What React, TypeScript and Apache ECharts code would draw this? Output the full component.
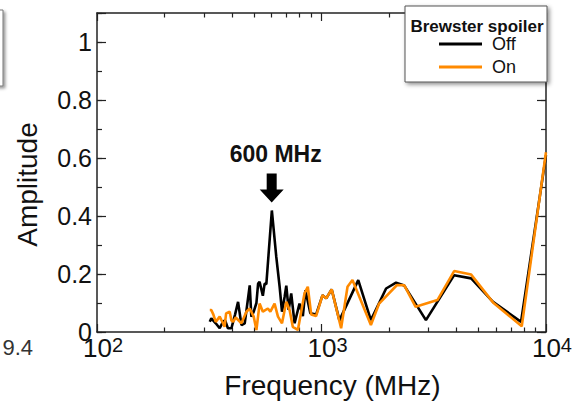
import React, { useEffect, useRef } from 'react';
import * as echarts from 'echarts';

// Frequency (MHz) / amplitude samples, Brewster spoiler OFF (black)
const offFreq = [318, 323, 338, 352, 364, 372, 383, 397, 412, 425, 440, 455, 466, 479, 487, 499, 513, 522, 530, 548, 558, 568, 601, 629, 651, 667, 685, 697, 714, 733, 759, 798, 826, 848, 892, 946, 1011, 1050, 1110, 1202, 1458, 1660, 1940, 2148, 2338, 2919, 3899, 4642, 5808, 7743, 10000];
const offAmp = [0.035, 0.047, 0.03, 0.013, 0.035, 0.04, 0.013, 0.013, 0.06, 0.104, 0.024, 0.03, 0.09, 0.161, 0.053, 0.07, 0.1, 0.167, 0.173, 0.125, 0.167, 0.165, 0.419, 0.259, 0.156, 0.07, 0.121, 0.16, 0.076, 0.133, 0.03, 0.098, 0.055, 0.144, 0.065, 0.06, 0.127, 0.116, 0.147, 0.04, 0.179, 0.041, 0.15, 0.17, 0.16, 0.041, 0.196, 0.185, 0.104, 0.035, 0.61];

// Brewster spoiler ON (orange)
const onFreq = [318, 323, 330, 338, 352, 364, 370, 376, 390, 397, 404, 415, 440, 463, 479, 499, 513, 530, 548, 577, 592, 618, 640, 667, 697, 721, 745, 785, 840, 869, 900, 946, 1011, 1050, 1110, 1223, 1306, 1374, 1660, 1806, 2170, 2338, 2627, 3284, 3899, 4642, 5808, 7800, 10000];
const onAmp = [0.076, 0.076, 0.06, 0.035, 0.053, 0.03, 0.018, 0.064, 0.07, 0.04, 0.035, 0.05, 0.03, 0.07, 0.081, 0.053, 0.007, 0.098, 0.07, 0.081, 0.07, 0.098, 0.053, 0.03, 0.104, 0.076, 0.018, 0.007, 0.133, 0.156, 0.06, 0.055, 0.127, 0.116, 0.147, 0.013, 0.156, 0.179, 0.024, 0.098, 0.162, 0.161, 0.087, 0.11, 0.21, 0.198, 0.102, 0.02, 0.62];

const seriesNames = ['Off', 'On'];
const legendTitle = 'Brewster spoiler';
const xMin = 100;
const xMax = 10000;
const yMin = 0;
const yMax = 1.1;
const yMajorStep = 0.2;
const yMinorStep = 0.1;
const annotationFreq = 600;
const annotationPeak = 0.419;
const annotationText = '600 MHz';
const sideText = '9.4';

const FONT = 'Liberation Sans, Arial, sans-serif';
const AXIS = '#222';
const ORANGE = '#ff8a00';

export default function App() {
  const ref = useRef<HTMLDivElement>(null);
  useEffect(() => {
    const chart = echarts.init(ref.current!, null, { renderer: 'svg' });
    const lineSt = { color: AXIS, width: 1.5 };
    const tickSt = { color: AXIS, width: 1.2 };
    const xFrame = (position: string, withLabel: boolean): any => ({
      type: 'log', logBase: 10, min: xMin, max: xMax, position,
      axisLine: { show: true, onZero: false, lineStyle: lineSt },
      axisTick: { show: true, inside: true, length: 8, lineStyle: tickSt },
      minorTick: { show: true, splitNumber: 9, length: 4.5, lineStyle: tickSt },
      splitLine: { show: false },
      minorSplitLine: { show: false },
      axisLabel: withLabel
        ? {
            margin: 3,
            formatter: (v: number) => `{p|}{b|10}{s|${Math.round(Math.log10(v))}}`,
            rich: {
              p: { width: 12 },
              b: { fontSize: 26, lineHeight: 26, verticalAlign: 'bottom', color: '#111', fontFamily: FONT },
              s: { fontSize: 20, lineHeight: 20, verticalAlign: 'top', padding: [0, 0, 12, 0], color: '#111', fontFamily: FONT },
            },
          }
        : { show: false },
    });
    const yFrame = (position: string, step: number, len: number, showLine: boolean): any => ({
      type: 'value', min: yMin, max: yMax, interval: step, position,
      axisLine: { show: showLine, onZero: false, lineStyle: lineSt },
      axisTick: { show: true, inside: true, length: len, lineStyle: tickSt },
      axisLabel: { show: false },
      splitLine: { show: false },
    });
    const option: any = {
      animation: false,
      backgroundColor: '#fff',
      textStyle: { fontFamily: FONT },
      grid: { left: 97, top: 13, right: 28, bottom: 74 },
      xAxis: [
        {
          ...xFrame('bottom', true),
          name: 'Frequency (MHz)', nameLocation: 'middle', nameGap: 34,
          nameTextStyle: { fontSize: 28, color: '#111', fontFamily: FONT, padding: [0, 0, 0, 22] },
        },
        xFrame('top', false),
      ],
      yAxis: [
        {
          ...yFrame('left', yMajorStep, 9, true),
          name: 'Amplitude', nameLocation: 'middle', nameGap: 56, nameRotate: 90,
          nameTextStyle: { fontSize: 28, color: '#111', fontFamily: FONT, padding: [0, 24, 0, 0] },
          axisLabel: {
            margin: 5, fontSize: 25, lineHeight: 18, color: '#111', fontFamily: FONT,
            formatter: (v: number) => {
              const r = Math.round(v * 10);
              return r % 2 === 0 ? String(r / 10) : '';
            },
          },
        },
        yFrame('right', yMajorStep, 9, true),
        yFrame('left', yMinorStep, 5, false),
        yFrame('right', yMinorStep, 5, false),
      ],
      legend: {
        data: seriesNames.map((n) => ({ name: n, icon: 'rect' })),
        orient: 'vertical',
        left: 405, top: 6,
        padding: [29, 31, 6, 34],
        itemGap: 5, itemWidth: 43, itemHeight: 3,
        backgroundColor: '#fff',
        borderColor: '#555', borderWidth: 1,
        shadowBlur: 4, shadowColor: 'rgba(0,0,0,0.45)', shadowOffsetX: 2, shadowOffsetY: 2,
        textStyle: { fontSize: 18, lineHeight: 18, color: '#111', fontFamily: FONT, padding: [0, 0, 0, 5] },
      },
      series: [
        {
          name: seriesNames[0], type: 'line', symbol: 'none', xAxisIndex: 0, yAxisIndex: 0,
          data: offFreq.map((f, i) => [f, offAmp[i]]),
          lineStyle: { color: '#000', width: 2.6 }, itemStyle: { color: '#000' },
          z: 3,
        },
        {
          name: seriesNames[1], type: 'line', symbol: 'none', xAxisIndex: 0, yAxisIndex: 0,
          data: onFreq.map((f, i) => [f, onAmp[i]]),
          lineStyle: { color: ORANGE, width: 2.6 }, itemStyle: { color: ORANGE },
          z: 4,
        },
      ],
    };
    chart.setOption(option);

    const peak = chart.convertToPixel({ xAxisIndex: 0, yAxisIndex: 0 }, [annotationFreq, annotationPeak]) as number[];
    const px = peak[0];
    const py = peak[1];
    chart.setOption({
      graphic: [
        {
          type: 'polygon', z: 50, silent: true,
          shape: {
            points: [
              [px - 5, py - 37], [px + 5, py - 37], [px + 5, py - 21], [px + 12, py - 21],
              [px, py - 8], [px - 12, py - 21], [px - 5, py - 21],
            ],
          },
          style: { fill: '#000' },
        },
        {
          type: 'text', z: 50, silent: true, x: px + 4, y: py - 56,
          style: { text: annotationText, fontSize: 23, fontWeight: 'bold', fontFamily: FONT, fill: '#111', align: 'center', verticalAlign: 'middle' },
        },
        {
          type: 'text', z: 100, silent: true, x: 477, y: 26,
          style: { text: legendTitle, fontSize: 17, fontWeight: 'bold', fontFamily: FONT, fill: '#111', align: 'center', verticalAlign: 'middle' },
        },
        {
          type: 'rect', z: 1, silent: true,
          shape: { x: -20, y: 10, width: 23, height: 76 },
          style: { fill: '#fff', stroke: '#777', lineWidth: 1, shadowBlur: 3, shadowColor: 'rgba(0,0,0,0.4)', shadowOffsetX: 2, shadowOffsetY: 2 },
        },
        {
          type: 'text', z: 1, silent: true, x: 33, y: 347,
          style: { text: sideText, fontSize: 22, fontFamily: FONT, fill: '#333', align: 'right', verticalAlign: 'middle' },
        },
      ],
    });
    return () => chart.dispose();
  }, []);
  return <div ref={ref} style={{ position: 'absolute', left: 0, top: 0, width: 575, height: 406 }} />;
}
